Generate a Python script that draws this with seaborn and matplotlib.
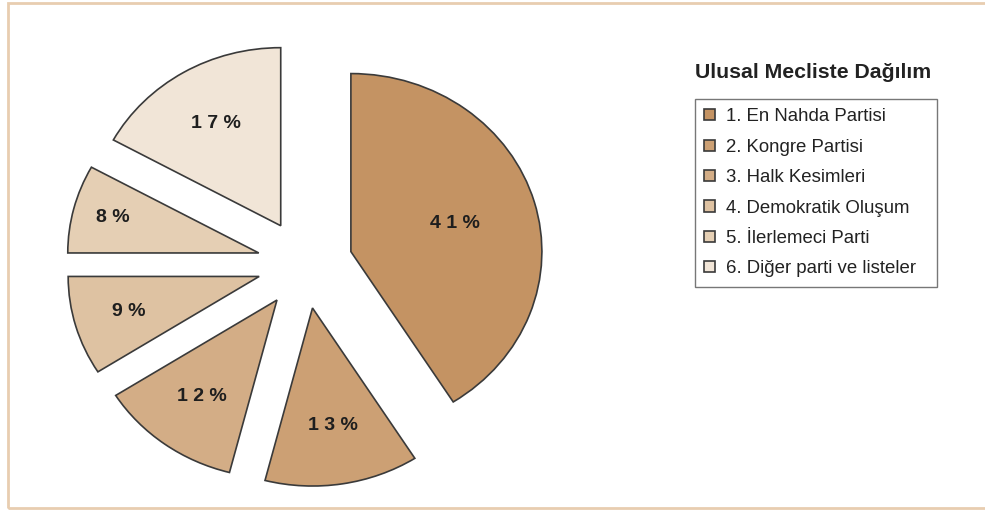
import matplotlib
matplotlib.use("Agg")
import numpy as np
import matplotlib.pyplot as plt
import seaborn as sns
from matplotlib.patches import Rectangle

# data
PARTIES = ['1. En Nahda Partisi', '2. Kongre Partisi', '3. Halk Kesimleri',
           '4. Demokratik Oluşum', '5. İlerlemeci Parti', '6. Diğer parti ve listeler']
SHARES = [41, 13, 12, 9, 8, 17]
TITLE = 'Ulusal Mecliste Dağılım'
COLORS = ['#C49363', '#CCA074', '#D3AD86', '#DEC2A2', '#E5CFB4', '#F1E5D7']

sns.set_theme(style="white")
plt.rcParams['font.family'] = ['Liberation Sans', 'DejaVu Sans']

fig = plt.figure(figsize=(9.85, 5.14), dpi=100)
ax = fig.add_axes([0, 0, 1, 1])

palette = sns.color_palette(COLORS)
wedges, _ = ax.pie(SHARES, startangle=90, counterclock=False,
                   explode=[0.25] * len(SHARES), colors=palette,
                   wedgeprops=dict(edgecolor='#3a3a3a', linewidth=1.2))

# label distance from each wedge's own apex (fraction of radius)
label_r = [0.57, 0.67, 0.67, 0.71, 0.79, 0.67]
for w, v, f in zip(wedges, SHARES, label_r):
    th = np.deg2rad((w.theta1 + w.theta2) / 2)
    cx, cy = w.center
    ax.text(cx + f * w.r * np.cos(th), cy + f * w.r * np.sin(th),
            ' '.join(f'{v}%'), ha='center', va='center',
            fontsize=14, fontweight='bold', color='#1e1e1e')

ax.set_aspect('auto')
ax.set_xlim(-1.597, 3.560)
ax.set_ylim(-1.404, 1.483)
ax.axis('off')

fig.text(695 / 985, 1 - 72 / 514, TITLE, fontsize=15.3, fontweight='bold',
         color='#222222', ha='left', va='center')

leg = fig.legend(wedges, PARTIES, loc='upper left',
                 bbox_to_anchor=(695 / 985, 1 - 287 / 514, 242 / 985, 188 / 514),
                 mode='expand', fontsize=13.4, frameon=True, fancybox=False,
                 handlelength=0.55, handleheight=0.55, handletextpad=0.6,
                 labelspacing=0.72, borderpad=0.5, borderaxespad=0)
leg.get_frame().set_edgecolor('#555555')
leg.get_frame().set_linewidth(1.0)
for t in leg.get_texts():
    t.set_color('#222222')

# outer border
fig.patches.append(Rectangle((8 / 985, 6 / 514), 1.2, 1 - 9 / 514,
                             transform=fig.transFigure, fill=False,
                             edgecolor='#E8CDB0', linewidth=2, clip_on=False))

fig.savefig('out.png', dpi=100, facecolor='white')
